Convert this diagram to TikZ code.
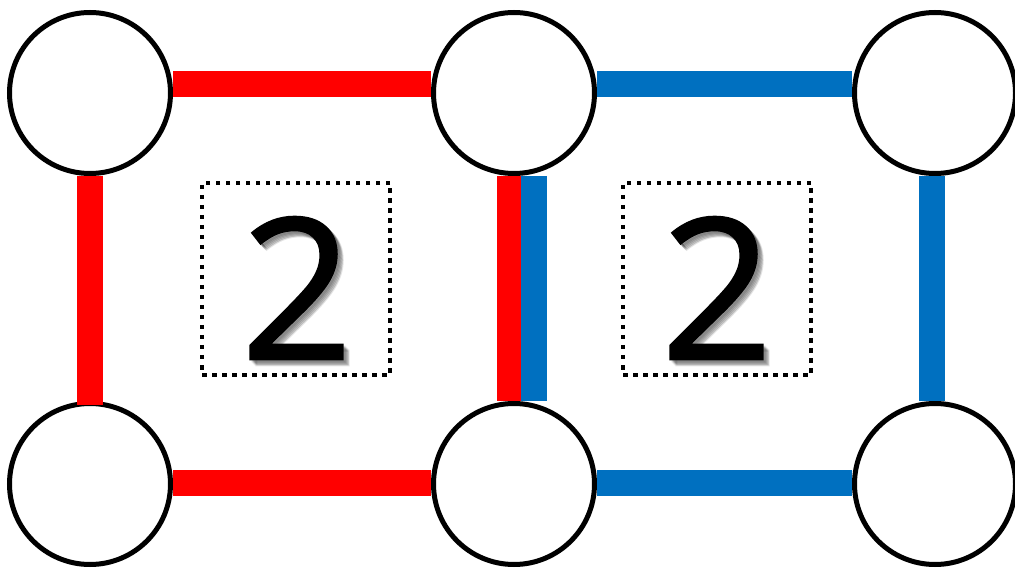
\documentclass[tikz,border=0pt]{standalone}
\usepackage{fontspec}
\setmainfont{Open Sans}
\newfontfamily\digitfont[FakeBold=1]{Open Sans}
\definecolor{barred}{HTML}{FF0000}
\definecolor{barblue}{HTML}{0070C0}
\begin{document}
\begin{tikzpicture}[x=1pt,y=-1pt,
  vertex/.style={circle,draw=black,line width=5pt,fill=white,minimum size=161pt,inner sep=0pt},
  redbar/.style={draw=barred,line width=26pt,line cap=butt},
  bluebar/.style={draw=barblue,line width=26pt,line cap=butt},
  dotbox/.style={draw=black,line width=4.5pt,dash pattern=on 4.5pt off 5.5pt,minimum width=188pt,minimum height=192pt,inner sep=0pt},
  digit/.style={inner sep=0pt,font=\digitfont\fontsize{197}{197}\selectfont},
  shadowdigit/.style={digit,text=black,opacity=0.1}]
\useasboundingbox (0,0) rectangle (1015,569);
% circles
\node[vertex] (A) at (90,93) {};
\node[vertex] (B) at (514,93) {};
\node[vertex] (C) at (935,93) {};
\node[vertex] (D) at (90,484) {};
\node[vertex] (E) at (514,484) {};
\node[vertex] (F) at (935,484) {};
% bars
\draw[redbar] ([yshift=9pt]A.east) -- ([yshift=9pt]B.west);
\draw[bluebar] ([yshift=9pt]B.east) -- ([yshift=9pt]C.west);
\draw[redbar] (A.south) -- ([yshift=-4pt]D.north);
\draw[redbar,line width=24pt] ([xshift=-5pt]B.south) -- ([xshift=-5pt]E.north);
\draw[bluebar] ([xshift=20pt]B.south) -- ([xshift=20pt]E.north);
\draw[bluebar] ([xshift=-3.5pt]C.south) -- ([xshift=-3.5pt]F.north);
\draw[redbar] ([yshift=1pt]D.east) -- ([yshift=1pt]E.west);
\draw[bluebar] ([yshift=1pt]E.east) -- ([yshift=1pt]F.west);
% dotted boxes
\node[dotbox] (L) at (296,279) {};
\node[dotbox] (R) at (717,279) {};
% shadows
\foreach \d in {2,3,4,5,6}{
  \node[shadowdigit] at ([xshift=\d pt,yshift=-\d pt]L.center) [yshift=-9pt,xshift=1pt] {2};
  \node[shadowdigit] at ([xshift=\d pt,yshift=-\d pt]R.center) [yshift=-9pt] {2};
}
\node[digit] (LD) at ([xshift=1pt,yshift=-9pt]L.center) {2};
\node[digit] (RD) at ([yshift=-9pt]R.center) {2};
\end{tikzpicture}
\end{document}
